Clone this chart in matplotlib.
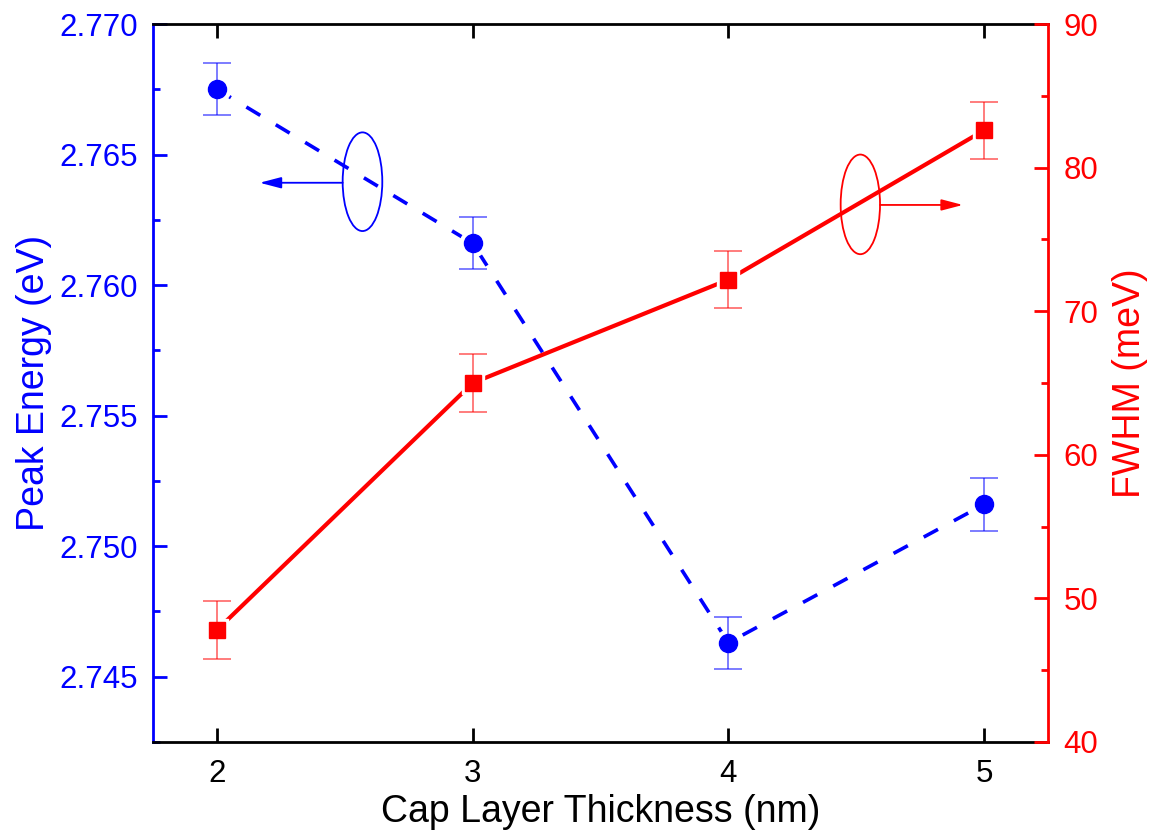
import matplotlib
matplotlib.use('Agg')
import matplotlib.pyplot as plt
from matplotlib.patches import Ellipse
from matplotlib.ticker import MultipleLocator, FormatStrFormatter

plt.rcParams['font.family'] = ['Liberation Sans', 'DejaVu Sans']

# data
thickness = [2, 3, 4, 5]
peak_energy = [2.7675, 2.7616, 2.7463, 2.7516]
peak_err = [0.001, 0.001, 0.001, 0.001]
fwhm = [47.8, 65.0, 72.2, 82.6]
fwhm_err = [2.0, 2.0, 2.0, 2.0]

BLUE = '#0000ff'
RED = '#ff0000'

fig = plt.figure(figsize=(11.56, 8.4), dpi=100)
ax1 = fig.add_axes([0.1324, 0.1167, 0.9066 - 0.1324, 0.9714 - 0.1167])
ax2 = ax1.twinx()

# blue: peak energy (dashed line, circles)
ax1.plot(thickness, peak_energy, color=BLUE, lw=2.6, ls=(0, (4.5, 5)), zorder=2)
ax1.plot(thickness, peak_energy, 'o', color='white', ms=19, mec='white', zorder=3)
ax1.errorbar(thickness, peak_energy, yerr=peak_err, fmt='none', ecolor=BLUE,
             elinewidth=1.2, capsize=10, capthick=1.2, alpha=0.6, zorder=4)
ax1.plot(thickness, peak_energy, 'o', color=BLUE, ms=13, mec=BLUE, zorder=5)

# red: FWHM (solid line, squares)
ax2.plot(thickness, fwhm, color=RED, lw=3.0, zorder=2)
ax2.plot(thickness, fwhm, 's', color='white', ms=16, mec='white', zorder=3)
ax2.errorbar(thickness, fwhm, yerr=fwhm_err, fmt='none', ecolor=RED,
             elinewidth=1.2, capsize=10, capthick=1.2, alpha=0.6, zorder=4)
ax2.plot(thickness, fwhm, 's', color=RED, ms=11, mec=RED, zorder=5)

# axis ranges
ax1.set_xlim(1.75, 5.25)
ax1.set_ylim(2.7425, 2.770)
ax2.set_ylim(40, 90)

ax1.xaxis.set_major_locator(MultipleLocator(1))
ax1.yaxis.set_major_locator(MultipleLocator(0.005))
ax1.yaxis.set_minor_locator(MultipleLocator(0.0025))
ax1.yaxis.set_major_formatter(FormatStrFormatter('%.3f'))
ax2.yaxis.set_major_locator(MultipleLocator(10))
ax2.yaxis.set_minor_locator(MultipleLocator(5))

# spines
for sp in ['left', 'right', 'top', 'bottom']:
    ax1.spines[sp].set_linewidth(2.0)
    ax2.spines[sp].set_linewidth(2.0)
ax1.spines['left'].set_color(BLUE)
ax1.spines['right'].set_visible(False)
ax2.spines['left'].set_visible(False)
ax2.spines['top'].set_visible(False)
ax2.spines['bottom'].set_visible(False)
ax2.spines['right'].set_color(RED)

# ticks
ax1.tick_params(axis='x', which='major', direction='in', top=True, length=10,
                width=2.0, labelsize=22.5, pad=12, colors='black')
ax1.tick_params(axis='y', which='major', direction='in', length=10, width=2.0,
                labelsize=22.5, pad=11, colors=BLUE)
ax1.tick_params(axis='y', which='minor', direction='in', length=5, width=2.0,
                colors=BLUE)
ax2.tick_params(axis='y', which='major', direction='in', length=10, width=2.0,
                labelsize=22.5, pad=11, colors=RED)
ax2.tick_params(axis='y', which='minor', direction='in', length=5, width=2.0,
                colors=RED)

# labels
ax1.set_xlabel('Cap Layer Thickness (nm)', fontsize=27, color='black')
ax1.set_ylabel('Peak Energy (eV)', fontsize=27, color=BLUE)
ax2.set_ylabel('FWHM (meV)', fontsize=27, color=RED)
ax1.xaxis.set_label_coords(0.5, -0.073)
ax1.yaxis.set_label_coords(-0.113, 0.5)
ax2.yaxis.set_label_coords(1.071, 0.5)

# ellipse + arrow markers showing which axis each curve belongs to
ax1.add_patch(Ellipse((2.569, 2.76396), 0.155, 0.00378, fill=False,
                      ec=BLUE, lw=1.3, zorder=6))
ax1.annotate('', xy=(2.167, 2.76392), xytext=(2.4915, 2.76392),
             arrowprops=dict(arrowstyle='-|>,head_length=0.65,head_width=0.17',
                             color=BLUE, lw=1.3, mutation_scale=20,
                             shrinkA=0, shrinkB=0), zorder=6)
ax2.add_patch(Ellipse((4.516, 77.44), 0.154, 6.94, fill=False,
                      ec=RED, lw=1.3, zorder=6))
ax2.annotate('', xy=(4.917, 77.4), xytext=(4.593, 77.4),
             arrowprops=dict(arrowstyle='-|>,head_length=0.65,head_width=0.17',
                             color=RED, lw=1.3, mutation_scale=20,
                             shrinkA=0, shrinkB=0), zorder=6)

fig.savefig('out.png', dpi=100)
